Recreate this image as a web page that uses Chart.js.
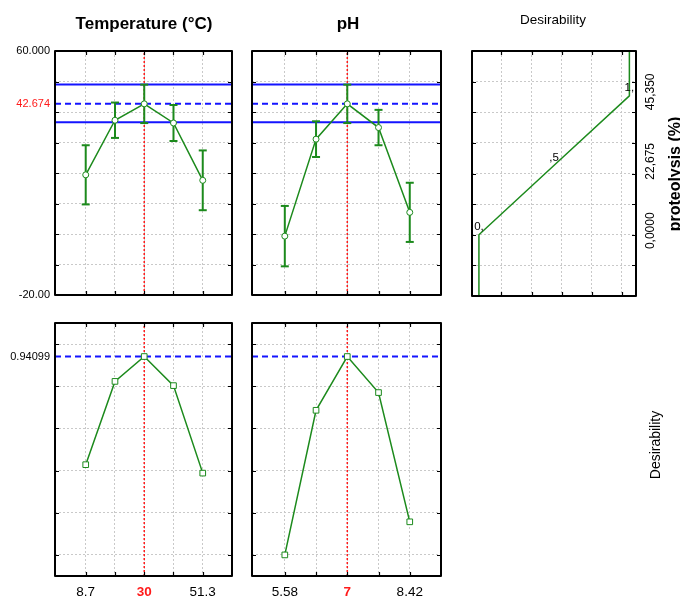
<!DOCTYPE html>
<html>
<head>
<meta charset="utf-8">
<script src="https://cdn.jsdelivr.net/npm/chart.js@4/dist/chart.umd.min.js"></script>
<style>
  body { margin: 0; background: #fff; }
  #wrap { position: relative; width: 680px; height: 600px; overflow: hidden; font-family: 'Liberation Sans', Arial, sans-serif; }
  #wrap canvas { position: absolute; left: 0; top: 0; }
  .lbl { position: absolute; white-space: nowrap; color: #000; line-height: 1; transform: translate(-50%, -50%); }
  .rot { transform: translate(-50%, -50%) rotate(-90deg); }
</style>
</head>
<body>
<div id="wrap">
  <canvas id="tempTop" width="680" height="600"></canvas>
  <canvas id="phTop" width="680" height="600"></canvas>
  <canvas id="desFunc" width="680" height="600"></canvas>
  <canvas id="tempBot" width="680" height="600"></canvas>
  <canvas id="phBot" width="680" height="600"></canvas>

  <div class="lbl" style="left:144px; top:23px; font-size:17px; font-weight:bold;">Temperature (°C)</div>
  <div class="lbl" style="left:348px; top:23px; font-size:17px; font-weight:bold;">pH</div>
  <div class="lbl" style="left:553px; top:20px; font-size:13.5px;">Desirability</div>
  <div class="lbl rot" style="left:675px; top:174px; font-size:16px; font-weight:bold;">proteolysis (%)</div>
  <div class="lbl rot" style="left:655px; top:445px; font-size:14px;">Desirability</div>
</div>

<script>
// ===== Dados =====

// níveis dos fatores (rótulos do eixo x)
const tempLevels = ['8.7', '19.35', '30', '40.65', '51.3'];
const phLevels = ['5.58', '6.29', '7', '7.71', '8.42'];
const levelIdx = [0, 1, 2, 3, 4];
const currentIdx = 2;
const shownIdx = [0, 2, 4];

// proteólise prevista (%) e meia-largura do intervalo de confiança
const tempMean = [19.4, 37.3, 42.674, 36.4, 17.6];
const tempErr = [9.7, 5.8, 6.3, 5.9, 9.8];
const phMean = [-0.7, 31.1, 42.674, 34.9, 7.1];
const phErr = [9.9, 5.85, 6.3, 5.8, 9.7];

const predicted = 42.674;
const ciLow = 36.6;
const ciHigh = 49.0;

// desirability em cada nível
const tempDesir = [0.428, 0.823, 0.94099, 0.803, 0.388];
const phDesir = [0.0, 0.686, 0.94099, 0.770, 0.157];
const bestDesir = 0.94099;

// função de desirability (desirability x proteólise)
const desFuncX = [0, 0, 0.5, 1, 1];
const desFuncY = [-20, 0, 22.675, 45.35, 60];
const desFuncLabels = ['', '0,', ',5', '1,', ''];

// eixos e grades
const respMin = -20, respMax = 60;
const respGrid = [-10, 0, 10, 20, 30, 40, 50];
const respLabels = { '60': '60.000', '-20': '-20.00', '42.674': '42.674' };
const desMin = -0.1, desMax = 1.1;
const desGrid = [0, 0.2, 0.4, 0.6, 0.8, 1.0];
const desLabels = { '0.94099': '0.94099' };
const levelMin = -1.05, levelMax = 5;
const funcMin = -0.046, funcMax = 1.044;
const funcGrid = [0.15, 0.35, 0.55, 0.75, 0.95];
const rightTicks = [0, 22.675, 45.35];
const rightTickLabels = ['0,0000', '22,675', '45,350'];

// ===== Estilos =====
const GREEN = '#1c8a1c';
const BLUE = '#1414ff';
const RED = '#ff1a1a';
const GRIDC = '#c9c9c9';
const FONT = "'Liberation Sans', Arial, sans-serif";
Chart.defaults.font.family = FONT;

// --- moldura preta com pequenas marcas internas ---
const framePlugin = {
  id: 'frame',
  afterDraw(chart, args, opts) {
    const { ctx, chartArea: a, scales: { x, y } } = chart;
    ctx.save();
    ctx.strokeStyle = '#000';
    ctx.lineWidth = 1.2;
    ctx.beginPath();
    (opts.xMarks || []).forEach(v => {
      const px = Math.round(x.getPixelForValue(v)) + 0.5;
      ctx.moveTo(px, a.top); ctx.lineTo(px, a.top + 4);
      ctx.moveTo(px, a.bottom); ctx.lineTo(px, a.bottom - 4);
    });
    (opts.yMarks || []).forEach(v => {
      const py = Math.round(y.getPixelForValue(v)) + 0.5;
      ctx.moveTo(a.left, py); ctx.lineTo(a.left + 4, py);
      ctx.moveTo(a.right, py); ctx.lineTo(a.right - 4, py);
    });
    ctx.stroke();
    ctx.lineWidth = 2;
    ctx.lineJoin = 'round';
    ctx.strokeRect(a.left, a.top, a.width, a.height);
    ctx.restore();
  }
};

// --- rótulos da função de desirability e eixo direito girado ---
const funcLabelsPlugin = {
  id: 'funcLabels',
  afterDraw(chart) {
    const { ctx, chartArea: a, scales: { x, y } } = chart;
    ctx.save();
    ctx.fillStyle = '#000';
    ctx.font = `11.5px ${FONT}`;
    ctx.textAlign = 'center';
    ctx.textBaseline = 'bottom';
    desFuncLabels.forEach((t, i) => {
      if (!t) return;
      ctx.fillText(t, x.getPixelForValue(desFuncX[i]), y.getPixelForValue(desFuncY[i]) - 2);
    });
    ctx.font = `12px ${FONT}`;
    ctx.textBaseline = 'middle';
    rightTicks.forEach((v, i) => {
      ctx.save();
      ctx.translate(a.right + 15, y.getPixelForValue(v) - 4);
      ctx.rotate(-Math.PI / 2);
      ctx.fillText(rightTickLabels[i], 0, 0);
      ctx.restore();
    });
    ctx.restore();
  }
};

function hLine(yv, dash) {
  return {
    data: [{ x: levelMin, y: yv }, { x: levelMax, y: yv }],
    borderColor: BLUE, borderWidth: 2, borderDash: dash, pointRadius: 0, showLine: true
  };
}

function vLine(lo, hi) {
  return {
    data: [{ x: currentIdx, y: lo }, { x: currentIdx, y: hi }],
    borderColor: RED, borderWidth: 1.5, borderDash: [2, 2], pointRadius: 0, showLine: true
  };
}

function topDatasets(means, errs) {
  const sets = [{
    data: levelIdx.map((x, i) => ({ x, y: means[i] })),
    showLine: true, borderColor: GREEN, borderWidth: 1.5,
    pointStyle: 'circle', pointRadius: 3, pointBackgroundColor: '#fff',
    pointBorderColor: GREEN, pointBorderWidth: 1
  }];
  levelIdx.forEach((x, i) => sets.push({
    data: [{ x, y: means[i] - errs[i] }, { x, y: means[i] + errs[i] }],
    showLine: true, borderColor: GREEN, borderWidth: 2,
    pointStyle: 'line', pointRadius: 4, pointBorderColor: GREEN, pointBorderWidth: 2
  }));
  sets.push(hLine(ciHigh, []), hLine(predicted, [6, 4]), hLine(ciLow, []), vLine(respMin, respMax));
  return sets;
}

function botDatasets(values) {
  return [{
    data: levelIdx.map((x, i) => ({ x, y: values[i] })),
    showLine: true, borderColor: GREEN, borderWidth: 1.5,
    pointStyle: 'rect', pointRadius: 4, pointBackgroundColor: '#fff',
    pointBorderColor: GREEN, pointBorderWidth: 1
  }, hLine(bestDesir, [6, 4]), vLine(desMin, desMax)];
}

// largura fixa: os rótulos ficam recortados na caixa do eixo
function yScale(min, max, grid, labels, width) {
  const all = [...new Set(grid.concat([min, max]).concat(Object.keys(labels).map(Number)))];
  return {
    type: 'linear', min, max,
    afterBuildTicks: s => { s.ticks = all.map(v => ({ value: v })); },
    afterFit: s => { s.width = width; },
    grid: {
      drawTicks: false, lineWidth: 1,
      color: c => grid.includes(c.tick.value) ? GRIDC : 'transparent'
    },
    border: { display: false, dash: [2, 2] },
    ticks: {
      display: width > 0, autoSkip: false, padding: 5,
      font: { size: 11 },
      color: c => c.tick.value === predicted ? RED : '#000',
      callback: v => labels[String(v)] || ''
    }
  };
}

function xScale(min, max, grid, labels, height) {
  return {
    type: 'linear', min, max,
    afterBuildTicks: s => { s.ticks = grid.map(v => ({ value: v })); },
    afterFit: s => { s.height = height; },
    grid: { drawTicks: false, color: GRIDC, lineWidth: 1 },
    border: { display: false, dash: [2, 2] },
    ticks: {
      display: !!labels, autoSkip: false, maxRotation: 0, minRotation: 0, padding: 8,
      font: c => ({ size: 13.5, weight: c.tick && c.tick.value === currentIdx ? 'bold' : 'normal' }),
      color: c => c.tick && c.tick.value === currentIdx ? RED : '#000',
      callback: v => (labels && shownIdx.includes(v)) ? labels[v] : ''
    }
  };
}

function makeChart(id, padding, datasets, x, y, marks, extra) {
  return new Chart(document.getElementById(id), {
    type: 'scatter',
    data: { datasets },
    options: {
      responsive: false, animation: false, events: [],
      layout: { padding },
      scales: { x, y },
      plugins: { legend: { display: false }, tooltip: { enabled: false }, frame: marks }
    },
    plugins: [framePlugin].concat(extra || [])
  });
}

// ===== Gráficos =====
makeChart('tempTop', { left: 0, right: 448, top: 51, bottom: 305 },
  topDatasets(tempMean, tempErr),
  xScale(levelMin, levelMax, levelIdx, null, 0),
  yScale(respMin, respMax, respGrid, respLabels, 55),
  { xMarks: levelIdx, yMarks: respGrid });

makeChart('phTop', { left: 252, right: 239, top: 51, bottom: 305 },
  topDatasets(phMean, phErr),
  xScale(levelMin, levelMax, levelIdx, null, 0),
  yScale(respMin, respMax, respGrid, {}, 0),
  { xMarks: levelIdx, yMarks: respGrid });

makeChart('desFunc', { left: 472, right: 44, top: 51, bottom: 304 },
  [{
    data: desFuncX.map((x, i) => ({ x, y: desFuncY[i] })),
    showLine: true, borderColor: GREEN, borderWidth: 1.5, pointRadius: 0
  }],
  xScale(funcMin, funcMax, funcGrid, null, 0),
  yScale(respMin, respMax, respGrid, {}, 0),
  { xMarks: funcGrid, yMarks: respGrid },
  [funcLabelsPlugin]);

makeChart('tempBot', { left: 0, right: 448, top: 323, bottom: 0 },
  botDatasets(tempDesir),
  xScale(levelMin, levelMax, levelIdx, tempLevels, 24),
  yScale(desMin, desMax, desGrid, desLabels, 55),
  { xMarks: levelIdx, yMarks: desGrid });

makeChart('phBot', { left: 252, right: 239, top: 323, bottom: 0 },
  botDatasets(phDesir),
  xScale(levelMin, levelMax, levelIdx, phLevels, 24),
  yScale(desMin, desMax, desGrid, {}, 0),
  { xMarks: levelIdx, yMarks: desGrid });
</script>
</body>
</html>
